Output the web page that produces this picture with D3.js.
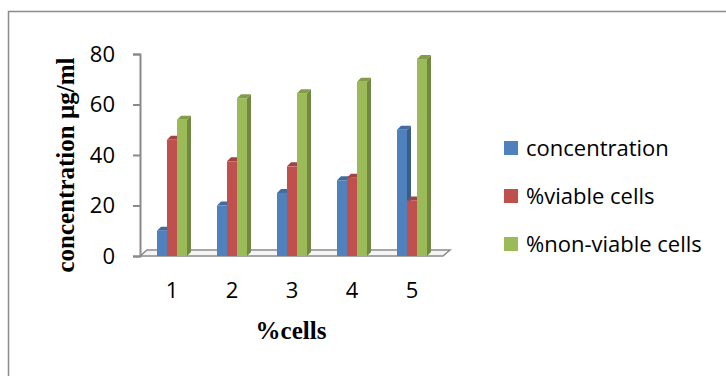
<!DOCTYPE html>
<meta charset="utf-8">
<script src="https://d3js.org/d3.v7.min.js"></script>
<style>
  body { margin: 0; background: #fff; }
</style>
<div id="chart"></div>
<script>
    const groups = ["1", "2", "3", "4", "5"];
    const seriesNames = ["concentration", "%viable cells", "%non-viable cells"];
    const concentration = [10, 20, 25, 30, 50];
    const viable = [46, 37.5, 35.5, 31, 22];
    const nonViable = [54, 62.5, 64.5, 69, 78];
    const yTicks = [0, 20, 40, 60, 80];
    const colors = ["#4f81bd", "#c0504d", "#9bbb59"];

    const seriesValues = [concentration, viable, nonViable];

    const width = 726, height = 376;
    const svg = d3.select("#chart")
        .append("svg")
            .attr("width", width)
            .attr("height", height);

    // outer frame (only top and left edges visible)
    svg.append("rect")
        .attr("x", 8.5).attr("y", 11.5)
        .attr("width", 730).attr("height", 380)
        .attr("fill", "none")
        .attr("stroke", "#8c8c8c")
        .attr("stroke-width", 1.5);

    const x0 = d3.scaleBand()
        .domain(groups)
        .range([142, 442])
        .paddingInner(0.5)
        .paddingOuter(0.25);
    const x1 = d3.scaleBand()
        .domain(seriesNames)
        .range([0, x0.bandwidth()]);
    const y = d3.scaleLinear()
        .domain([0, 80])
        .range([256, 54]);

    const axisColor = "#8a8a8a";
    const fdx = 7, fdy = 6;

    // floor
    const fl = 140, fr = 443, fy = y(0);
    svg.append("path")
        .attr("d", `M${fl},${fy} L${fl + fdx},${fy - fdy} L${fr + fdx},${fy - fdy} L${fr},${fy} Z`)
        .attr("fill", "#f4f4f4")
        .attr("stroke", axisColor)
        .attr("stroke-width", 1.5);

    // y axis
    const yAxis = svg.append("g")
        .attr("transform", "translate(140,0)")
        .call(d3.axisLeft(y).tickValues(yTicks).tickSize(7).tickPadding(18));
    yAxis.select(".domain").attr("stroke", axisColor).attr("stroke-width", 2);
    yAxis.selectAll(".tick line").attr("stroke", axisColor).attr("stroke-width", 2);
    yAxis.selectAll(".tick text")
        .attr("fill", "#000")
        .style("font-family", "'Open Sans', sans-serif")
        .style("font-size", "22px");

    // bars
    const dx = 4, dy = 4;
    const bw = x1.bandwidth();
    const barData = [];
    groups.forEach((g, i) => {
        seriesNames.forEach((s, j) => {
            barData.push({group: g, series: s, value: seriesValues[j][i], color: colors[j]});
        });
    });

    const bars = svg.append("g").selectAll("g")
        .data(barData)
        .join("g");

    bars.append("path")
        .attr("d", d => {
            const bx = x0(d.group) + x1(d.series) + bw, by = y(d.value), b0 = y(0);
            return `M${bx},${by} L${bx + dx},${by - dy} L${bx + dx},${b0 - dy} L${bx},${b0} Z`;
        })
        .attr("fill", d => d3.color(d.color).darker(0.9));
    bars.append("path")
        .attr("d", d => {
            const bx = x0(d.group) + x1(d.series), by = y(d.value);
            return `M${bx},${by} L${bx + dx},${by - dy} L${bx + bw + dx},${by - dy} L${bx + bw},${by} Z`;
        })
        .attr("fill", d => d3.color(d.color).darker(0.5));
    bars.append("rect")
        .attr("x", d => x0(d.group) + x1(d.series))
        .attr("y", d => y(d.value))
        .attr("width", bw)
        .attr("height", d => y(0) - y(d.value))
        .attr("fill", d => d.color);

    // x labels
    svg.append("g").selectAll("text")
        .data(groups)
        .join("text")
        .attr("x", d => x0(d) + x0.bandwidth() / 2)
        .attr("y", 298)
        .attr("text-anchor", "middle")
        .style("font-family", "'Open Sans', sans-serif")
        .style("font-size", "22px")
        .text(d => d);

    // axis titles
    svg.append("text")
        .attr("x", 291).attr("y", 339)
        .attr("text-anchor", "middle")
        .style("font-family", "'Liberation Serif', serif")
        .style("font-weight", "bold")
        .style("font-size", "25px")
        .text("%cells");
    svg.append("text")
        .attr("transform", "translate(74,165) rotate(-90)")
        .attr("text-anchor", "middle")
        .style("font-family", "'Liberation Serif', serif")
        .style("font-weight", "bold")
        .style("font-size", "25px")
        .text("concentration µg/ml");

    // legend
    const legend = svg.append("g").selectAll("g")
        .data(seriesNames)
        .join("g")
        .attr("transform", (d, i) => `translate(504,${148 + i * 48})`);
    legend.append("rect")
        .attr("x", 0).attr("y", -7)
        .attr("width", 14).attr("height", 14)
        .attr("fill", (d, i) => colors[i]);
    legend.append("text")
        .attr("x", 22).attr("y", 8)
        .style("font-family", "'Open Sans', sans-serif")
        .style("font-size", "22px")
        .text(d => d);
</script>
